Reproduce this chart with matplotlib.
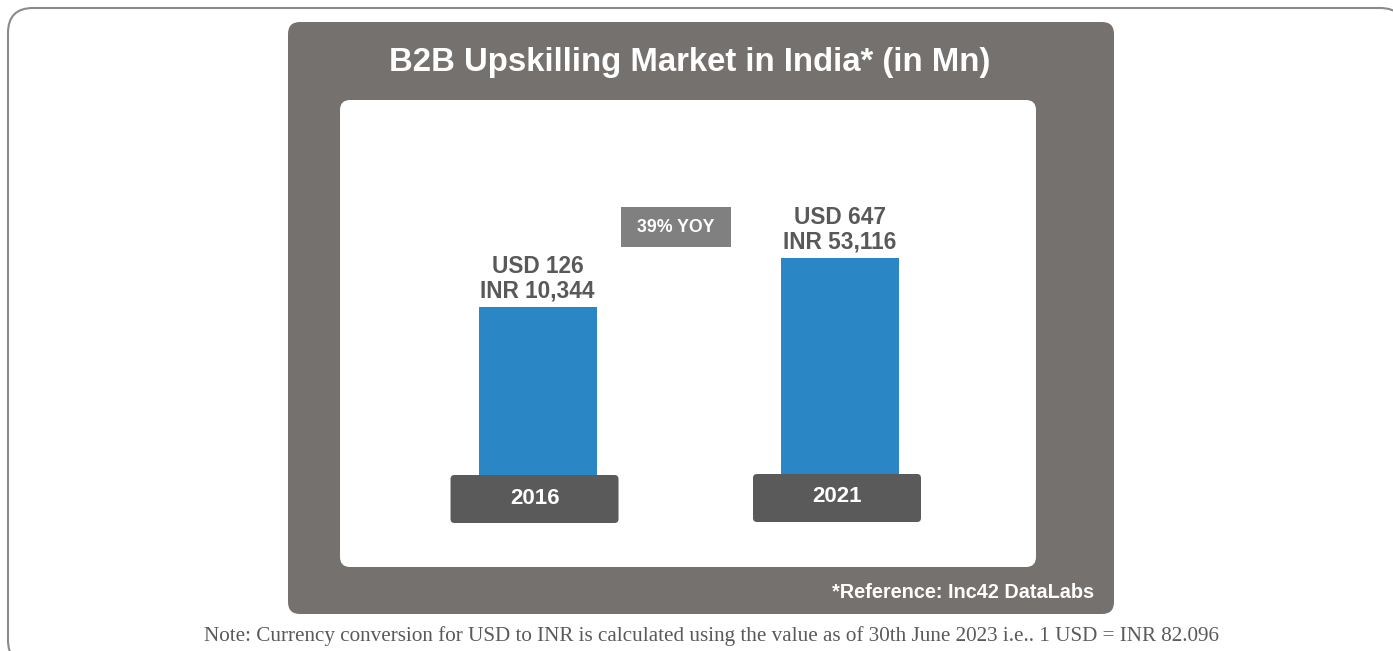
import matplotlib.pyplot as plt
from matplotlib.patches import FancyBboxPatch

# data
years = ['2016', '2021']
usd = [126, 647]
inr = [10344, 53116]
growth = 39

title = 'B2B Upskilling Market in India* (in Mn)'
source = '*Reference: Inc42 DataLabs'
note = 'Note: Currency conversion for USD to INR is calculated using the value as of 30th June 2023 i.e.. 1 USD = INR 82.096'

plt.rcParams['font.family'] = ['Liberation Sans', 'DejaVu Sans']

W, H = 1393, 651
fig = plt.figure(figsize=(W / 100, H / 100), dpi=100)

# background axes in pixel units
bg = fig.add_axes([0, 0, 1, 1])
bg.set_xlim(0, W)
bg.set_ylim(H, 0)
bg.axis('off')

bg.add_patch(FancyBboxPatch((8, 8), 1397, 657, boxstyle='round,pad=0,rounding_size=25',
                            facecolor='white', edgecolor='#8a8a8a', linewidth=1.5))
bg.add_patch(FancyBboxPatch((288, 22), 826, 592, boxstyle='round,pad=0,rounding_size=12',
                            facecolor='#75716f', edgecolor='none'))
bg.add_patch(FancyBboxPatch((340, 100), 696, 467, boxstyle='round,pad=0,rounding_size=10',
                            facecolor='white', edgecolor='none'))

bg.text(690, 63, title, color='white', fontsize=23.7, fontweight='bold',
        ha='center', va='center')
bg.text(1094, 592, source, color='white', fontsize=14.3, fontweight='bold',
        ha='right', va='center')
bg.text(711, 636, note, color='#5a5a5a', fontsize=15.2, family='Liberation Serif',
        ha='center', va='center')

# growth tag
bg.add_patch(FancyBboxPatch((621, 207), 110, 40, boxstyle='square,pad=0',
                            facecolor='#808080', edgecolor='none'))
bg.text(676, 227, f'{growth}% YOY', color='white', fontsize=12.8, fontweight='bold',
        ha='center', va='center')

# bar axes
ax = fig.add_axes([340 / W, (H - 478) / H, 696 / W, 378 / H])
ax.set_yscale('log')
ax.set_xlim(-0.653, 1.648)
ax.set_ylim(0.42, 1.27e5)
ax.axis('off')

x = list(range(len(years)))
base = ax.get_ylim()[0]
ax.bar(x, [v - base for v in usd], bottom=base, width=0.39, color='#2a86c5', zorder=2)

for i, (yr, u, r) in enumerate(zip(years, usd, inr)):
    ax.annotate(f'INR {r:,}', xy=(i, u), xytext=(0, 11.5), textcoords='offset points',
                ha='center', va='center', fontsize=16.3, fontweight='bold', color='#595959')
    ax.annotate(f'USD {u}', xy=(i, u), xytext=(0, 29), textcoords='offset points',
                ha='center', va='center', fontsize=16.3, fontweight='bold', color='#595959')
    # year box under the bar
    px = bg.transData.inverted().transform(ax.transData.transform((i, base)))[0] - 3
    ax.add_artist(FancyBboxPatch((px - 84, 475 - i), 168, 48, boxstyle='round,pad=0,rounding_size=4',
                                 facecolor='#5a5a5a', edgecolor='none', transform=bg.transData,
                                 clip_on=False, zorder=3))
    ax.text(px, 499 - 2 * i, yr, color='white', fontsize=16, fontweight='bold', ha='center',
            va='center', transform=bg.transData, clip_on=False, zorder=4)

fig.savefig('out.png', dpi=100)
